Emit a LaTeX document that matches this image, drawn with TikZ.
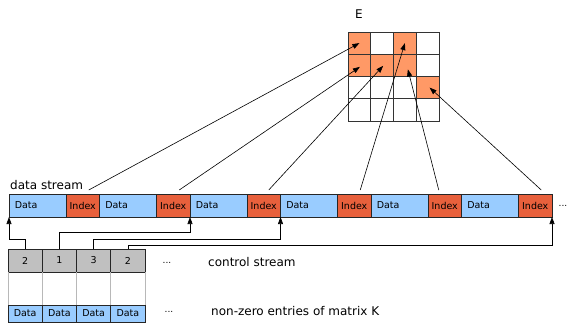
\documentclass[tikz,border=0pt]{standalone}
\usepackage{fontspec}
\setmainfont{DejaVu Sans}
\usetikzlibrary{arrows.meta,calc}
\definecolor{dblue}{HTML}{99CCFF}
\definecolor{idxred}{HTML}{E8603C}
\definecolor{morange}{HTML}{FF9966}
\definecolor{cgray}{HTML}{C0C0C0}
\definecolor{lgray}{HTML}{B8B8B8}
\begin{document}
\begin{tikzpicture}[x=1pt,y=-1pt,
  box/.style={draw=black!85, line width=0.7pt, inner sep=0pt, outer sep=0pt, anchor=north west, font=\fontsize{9.5}{10}\selectfont},
  dbox/.style={box, fill=dblue, minimum height=23pt, text width=45.5pt, inner xsep=5.75pt, align=left},
  ibox/.style={box, fill=idxred, minimum height=23pt, minimum width=33.5pt},
  cbox/.style={box, fill=cgray, minimum height=23pt, minimum width=34.25pt},
  bbox/.style={box, fill=dblue, minimum height=17pt, minimum width=34.25pt},
  mcell/.style={draw=black!80, line width=0.7pt, inner sep=0pt, outer sep=0pt, minimum width=22.75pt, minimum height=22.25pt, anchor=north west},
  arr/.style={-{Triangle[length=7pt,width=5pt]}, line width=0.6pt},
  gline/.style={draw=lgray, line width=0.7pt},
  lbl/.style={inner sep=0pt, font=\fontsize{12}{14}\selectfont},
  dots/.style={inner sep=0pt, anchor=base, font=\fontsize{9}{10}\selectfont}
]
\useasboundingbox (0,0) rectangle (569,323);

% data stream
\node[dbox] (D1) at (9,194) {Data};
\node[ibox] (I1) at (D1.north east) {Index};
\node[dbox] (D2) at (I1.north east) {Data};
\node[ibox] (I2) at (D2.north east) {Index};
\node[dbox] (D3) at (I2.north east) {Data};
\node[ibox] (I3) at (D3.north east) {Index};
\node[dbox] (D4) at (I3.north east) {Data};
\node[ibox] (I4) at (D4.north east) {Index};
\node[dbox] (D5) at (I4.north east) {Data};
\node[ibox] (I5) at (D5.north east) {Index};
\node[dbox] (D6) at (I5.north east) {Data};
\node[ibox] (I6) at (D6.north east) {Index};
\node[dots] (dsd) at (563,206) {...};
\node[lbl, anchor=base west] (lds) at (10,189) {data stream};

% control stream
\node[cbox] (C1) at (8,249) {2};
\node[cbox] (C2) at (C1.north east) {1};
\node[cbox] (C3) at (C2.north east) {3};
\node[cbox] (C4) at (C3.north east) {2};
\node[dots] (csd) at (167,263) {...};
\node[lbl, anchor=west] (lcs) at (208,262) {control stream};

% non-zero entries
\node[bbox] (B1) at (8,305) {Data};
\node[bbox] (B2) at (B1.north east) {Data};
\node[bbox] (B3) at (B2.north east) {Data};
\node[bbox] (B4) at (B3.north east) {Data};
\node[dots] (bd) at (169,312) {...};
\node[lbl, anchor=west] (lnz) at (211,311) {non-zero entries of matrix K};

\draw[gline] (C1.south west) -- (B1.north west);
\draw[gline] (C2.south west) -- (B2.north west);
\draw[gline] (C3.south west) -- (B3.north west);
\draw[gline] (C4.south west) -- (B4.north west);
\draw[gline] (C4.south east) -- (B4.north east);

% matrix E
\foreach \r/\c/\f in {0/0/morange,0/1/white,0/2/morange,0/3/white,
                      1/0/morange,1/1/morange,1/2/morange,1/3/white,
                      2/0/white,2/1/white,2/2/white,2/3/morange,
                      3/0/white,3/1/white,3/2/white,3/3/white}
  \node[mcell, fill=\f] (m\r\c) at ({348+22.75*\c},{32+22.25*\r}) {};
\node[lbl] (lE) at (359,14) {E};

% connectors index -> matrix
\draw[arr] ($(I1.north)+(6,-4)$) -- (m00.center);
\draw[arr] ($(I2.north)+(6,-4)$) -- ($(m10.center)+(0.5,1.5)$);
\draw[arr] ($(I3.north)+(5,-4)$) -- ($(m11.center)+(1,0.5)$);
\draw[arr] ($(I4.north)+(6,-4)$) -- (m02.center);
\draw[arr] ($(I5.north)+(-6,-4)$) -- ($(m12.center)+(3,4)$);
\draw[arr] ($(I6.north)+(6,-4)$) -- ($(m23.center)+(2,0)$);

% control -> data stream
\draw[arr] (C1.north) -- ++(0,-10) -| (D1.south west);
\draw[arr] (C2.north) -- ++(0,-17) -| (I2.south east);
\draw[arr] (C3.north) -- ++(0,-10) -| (I3.south east);
\draw[arr] (C4.north) -- ++(0,-4) -| (I6.south east);
\end{tikzpicture}
\end{document}
